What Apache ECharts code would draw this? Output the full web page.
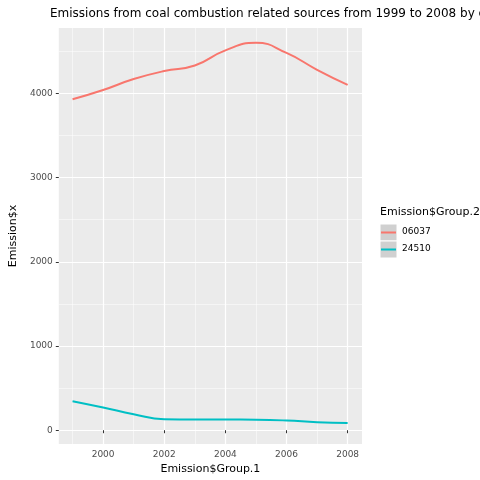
<!DOCTYPE html><html><head><meta charset="utf-8"><script src="https://cdn.jsdelivr.net/npm/echarts@6/dist/echarts.min.js"></script></head><body style="margin:0"><div id="c" style="width:480px;height:480px"></div><script>
const years=[1999,2000,2001,2002,2003,2004,2005,2006,2007,2008];
const s06037=[3930,4040,4170,4265,4330,4510,4600,4480,4280,4100];
const s24510=[345,270,190,130,128,127,125,115,95,85];
const groups=['06037','24510'];
const colors=['#F8766D','#00BFC4'];
const xMajor=[2000,2002,2004,2006,2008], xMinor=[1999,2001,2003,2005,2007];
const yMajor=[0,1000,2000,3000,4000], yMinor=[500,1500,2500,3500,4500];
const ch=echarts.init(document.getElementById('c'));
const ax=(min,max,maj,pos)=>({type:'value',min,max,position:pos,axisLine:{show:false},
 axisTick:{show:true,length:3,lineStyle:{color:'#333'},customValues:maj},
 axisLabel:{customValues:maj,color:'#4d4d4d',fontSize:9,fontFamily:'DejaVu Sans',margin:6,formatter:v=>String(v)},
 splitLine:{show:true,lineStyle:{color:'#fff',width:1.2}}});
const minor=(min,max,vals,pos)=>({type:'value',min,max,position:pos,show:true,axisLine:{show:false},axisLabel:{show:false},
 axisTick:{show:false,customValues:vals},splitLine:{show:true,lineStyle:{color:'#fff',width:0.5}}});
ch.setOption({animation:false,backgroundColor:'#fff',
 title:{text:'Emissions from coal combustion related sources from 1999 to 2008 by city',left:45,top:3,textStyle:{fontSize:12,fontWeight:'normal',fontFamily:'DejaVu Sans',color:'#000'}},
 grid:{left:45,right:118,top:28,bottom:32,backgroundColor:'#EBEBEB',show:true,borderWidth:0},
 xAxis:[minor(1998.55,2008.47,xMinor,'top'),Object.assign(ax(1998.55,2008.47,xMajor,'bottom'),{name:'Emission$Group.1',nameLocation:'middle',nameGap:18,nameTextStyle:{fontSize:11,fontFamily:'DejaVu Sans',color:'#000'}})],
 yAxis:[minor(-165,4776,yMinor,'right'),Object.assign(ax(-165,4776,yMajor,'left'),{name:'Emission$x',nameLocation:'middle',nameGap:33,nameTextStyle:{fontSize:11,fontFamily:'DejaVu Sans',color:'#000'}})],
 series:[s06037,s24510].map((d,i)=>({type:'line',name:groups[i],xAxisIndex:1,yAxisIndex:1,smooth:0.5,showSymbol:false,lineStyle:{color:colors[i],width:2},data:years.map((y,j)=>[y,d[j]])})),
 graphic:[{type:'text',left:380,top:207,style:{text:'Emission$Group.2',fontSize:11,fontFamily:'DejaVu Sans',fill:'#000'}},
 ...groups.flatMap((g,i)=>[{type:'rect',shape:{x:380,y:224+i*17,width:17,height:17},style:{fill:'#d0d0d0',stroke:'#fff',lineWidth:1}},
 {type:'line',shape:{x1:381,y1:232.5+i*17,x2:396,y2:232.5+i*17},style:{stroke:colors[i],lineWidth:2}},
 {type:'text',left:402,top:227+i*17,style:{text:g,fontSize:9,fontFamily:'DejaVu Sans',fill:'#000'}}])]
});
</script></body></html>
